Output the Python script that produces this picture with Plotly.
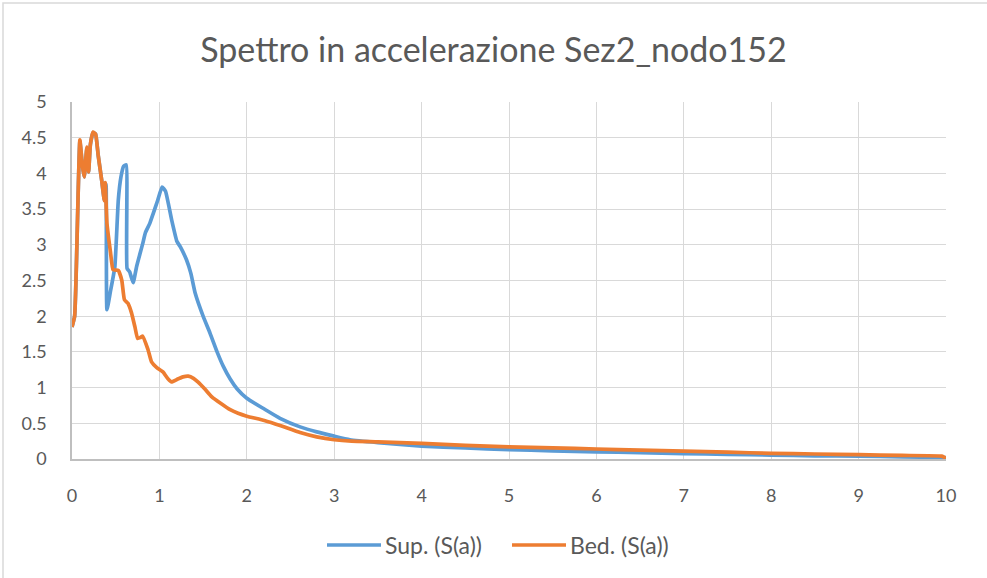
import plotly.graph_objects as go

# Spectral acceleration, surface node
sup_t = [0, 0.03, 0.05, 0.07, 0.09, 0.12, 0.14, 0.17, 0.19, 0.21, 0.24, 0.27, 0.30, 0.34,
         0.37, 0.39, 0.40, 0.44, 0.49, 0.53, 0.56, 0.59, 0.62, 0.63, 0.66, 0.70, 0.74,
         0.81, 0.84, 0.89, 0.93, 0.98, 1.03, 1.07, 1.14, 1.20, 1.24, 1.31, 1.36, 1.41,
         1.50, 1.58, 1.66, 1.73, 1.81, 1.89, 2.0, 2.2, 2.38, 2.61, 2.8, 3.0, 3.18, 3.5,
         4.0, 4.5, 5.0, 5.5, 6.0, 6.5, 7.0, 7.5, 8.0, 8.5, 9.0, 9.5, 10.0]
sup_sa = [1.85, 2.0, 2.7, 3.7, 4.45, 4.1, 3.95, 4.35, 4.02, 4.4, 4.57, 4.55, 4.25, 3.9,
          3.62, 3.85, 2.09, 2.35, 2.69, 3.63, 3.95, 4.1, 4.12, 2.67, 2.62, 2.47, 2.7,
          3.02, 3.17, 3.3, 3.44, 3.62, 3.81, 3.75, 3.35, 3.05, 2.97, 2.79, 2.6, 2.32,
          2.0, 1.76, 1.5, 1.3, 1.12, 0.98, 0.85, 0.7, 0.57, 0.45, 0.38, 0.32, 0.27, 0.23,
          0.18, 0.155, 0.13, 0.115, 0.1, 0.09, 0.075, 0.065, 0.055, 0.045, 0.04, 0.03, 0.02]

# Spectral acceleration, bedrock
bed_t = [0, 0.03, 0.05, 0.07, 0.09, 0.12, 0.14, 0.17, 0.19, 0.21, 0.24, 0.27, 0.30, 0.34,
         0.37, 0.38, 0.40, 0.44, 0.47, 0.53, 0.57, 0.60, 0.64, 0.68, 0.72, 0.75, 0.78,
         0.81, 0.87, 0.91, 0.97, 1.04, 1.10, 1.14, 1.21, 1.27, 1.33, 1.39, 1.44, 1.52,
         1.60, 1.70, 1.81, 1.90, 2.0, 2.2, 2.38, 2.61, 2.8, 3.0, 3.2, 3.5, 4.0, 4.5, 5.0,
         5.5, 6.0, 6.5, 7.0, 7.5, 8.0, 8.5, 9.0, 9.5, 9.95, 10.0]
bed_sa = [1.85, 2.0, 2.7, 3.7, 4.47, 4.1, 3.95, 4.37, 4.02, 4.4, 4.58, 4.55, 4.25, 3.9,
          3.62, 3.87, 3.3, 2.9, 2.65, 2.64, 2.5, 2.23, 2.18, 2.05, 1.85, 1.69, 1.70,
          1.72, 1.53, 1.36, 1.28, 1.22, 1.12, 1.08, 1.12, 1.15, 1.16, 1.13, 1.08, 0.98,
          0.87, 0.78, 0.69, 0.64, 0.60, 0.54, 0.47, 0.37, 0.31, 0.27, 0.25, 0.24, 0.22,
          0.19, 0.17, 0.155, 0.14, 0.125, 0.11, 0.095, 0.08, 0.07, 0.06, 0.05, 0.04, 0.01]

series_names = ["Sup. (S(a))", "Bed. (S(a))"]
series_colors = ["#5B9BD5", "#ED7D31"]

x_ticks = list(range(0, 11))
y_ticks = [0, 0.5, 1, 1.5, 2, 2.5, 3, 3.5, 4, 4.5, 5]
y_labels = ["0", "0.5", "1", "1.5", "2", "2.5", "3", "3.5", "4", "4.5", "5"]

FONT = "Lato"
TXT = "#595959"

# plot-area geometry in pixels (used to place the frame and legend in paper units)
W, H = 987, 578
L, R, T, B = 72, 41, 102, 119
PW, PH = W - L - R, H - T - B


def px_x(p):
    return (p - L) / PW


def px_y(p):
    return (H - B - p) / PH


fig = go.Figure()
for t, sa, name, col in [(sup_t, sup_sa, series_names[0], series_colors[0]),
                         (bed_t, bed_sa, series_names[1], series_colors[1])]:
    fig.add_trace(go.Scatter(x=t, y=sa, mode="lines", name=name, showlegend=False,
                             line=dict(color=col, width=3.7, shape="spline", smoothing=0.4)))

fig.update_layout(
    width=W, height=H,
    margin=dict(l=L, r=R, t=T, b=B),
    paper_bgcolor="white", plot_bgcolor="white",
    font=dict(family=FONT, color=TXT, size=18),
    title=dict(text="Spettro in accelerazione Sez2_nodo152", x=0.5, xanchor="center",
               y=1 - 50 / H, yanchor="middle",
               font=dict(family=FONT, size=34, color=TXT)),
    xaxis=dict(range=[0, 10], tickvals=x_ticks, ticktext=[str(v) for v in x_ticks],
               showgrid=True, gridcolor="#D9D9D9", gridwidth=1,
               showline=True, linecolor="#BFBFBF", linewidth=1.5,
               zeroline=False, ticks="", ticklabelstandoff=20,
               tickfont=dict(size=18, color=TXT)),
    yaxis=dict(range=[0, 5], tickvals=y_ticks, ticktext=y_labels,
               showgrid=True, gridcolor="#D9D9D9", gridwidth=1,
               showline=True, linecolor="#BFBFBF", linewidth=1.5,
               zeroline=False, ticks="", ticklabelstandoff=20,
               tickfont=dict(size=18, color=TXT)),
)

# Chart-area frame
fig.add_shape(type="rect", xref="paper", yref="paper",
              x0=px_x(3), x1=px_x(1000), y0=px_y(600), y1=px_y(3),
              line=dict(color="#D9D9D9", width=1.5), fillcolor="rgba(0,0,0,0)", layer="below")

# Legend below the plot: line sample followed by series name
legend_y = px_y(545)
for (x0, x1), name, col in zip([(327, 381), (512, 566)], series_names, series_colors):
    fig.add_shape(type="line", xref="paper", yref="paper",
                  x0=px_x(x0), x1=px_x(x1), y0=legend_y, y1=legend_y,
                  line=dict(color=col, width=3.7))
    fig.add_annotation(xref="paper", yref="paper", x=px_x(x1 + 2), y=legend_y,
                       text=name, showarrow=False, xanchor="left", yanchor="middle",
                       font=dict(family=FONT, size=23, color=TXT))

fig.write_html("out.html")
